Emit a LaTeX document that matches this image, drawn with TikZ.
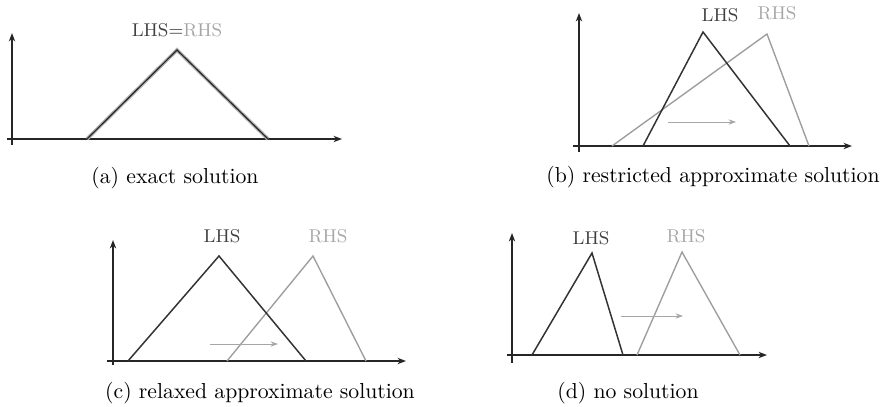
\documentclass[tikz,border=0pt]{standalone}
\usetikzlibrary{arrows.meta}
\begin{document}
\begin{tikzpicture}[x=0.47pt,y=-0.47pt,
  axis/.style={line width=0.75pt, draw=black!85, -{Stealth[length=4pt,width=3pt]}},
  lhs/.style={line width=0.7pt, draw=black!80, line join=miter},
  rhs/.style={line width=0.65pt, draw=black!38, line join=miter},
  shiftarrow/.style={line width=0.4pt, draw=black!35, -{Stealth[length=3.5pt,width=2.5pt]}},
  lab/.style={inner sep=0pt, font=\fontsize{8.7}{10}\selectfont},
  captext/.style={inner sep=0pt, font=\fontsize{10.2}{12}\selectfont}]
\useasboundingbox (0,0) rectangle (890,406);
% ---------- (a)
\coordinate (aY0) at (12,145); \coordinate (aY1) at (12,33);
\coordinate (aX0) at (7,139);  \coordinate (aX1) at (342,139);
\coordinate (aL) at (87,139); \coordinate (aP) at (177,50); \coordinate (aR) at (268,139);
\draw[axis] (aY0) -- (aY1);
\draw[axis] (aX0) -- (aX1);
\draw[line width=1.7pt, draw=black!30, line join=miter] (aL) -- (aP) -- (aR);
\draw[line width=0.55pt, draw=black!85, line join=miter] (aL) -- (aP) -- (aR);
\node[lab] (aLab) at (177,30) {\textcolor{black!75}{LHS=}\textcolor{black!35}{RHS}};
\node[captext] (aCap) at (175,178) {(a) exact solution};
% ---------- (b)
\coordinate (bY0) at (579,152); \coordinate (bY1) at (579,13);
\coordinate (bX0) at (573,146); \coordinate (bX1) at (852,146);
\coordinate (bLl) at (643,146); \coordinate (bLp) at (703,32); \coordinate (bLr) at (790,146);
\coordinate (bRl) at (612,146); \coordinate (bRp) at (767,34); \coordinate (bRr) at (809,146);
\coordinate (bA0) at (668,122); \coordinate (bA1) at (736,122);
\draw[axis] (bY0) -- (bY1);
\draw[axis] (bX0) -- (bX1);
\draw[rhs] (bRl) -- (bRp) -- (bRr);
\draw[lhs] (bLl) -- (bLp) -- (bLr);
\draw[shiftarrow] (bA0) -- (bA1);
\node[lab, text=black!75] (bLab1) at (720,15) {LHS};
\node[lab, text=black!35] (bLab2) at (777,13) {RHS};
\node[captext] (bCap) at (713,177) {(b) restricted approximate solution};
% ---------- (c)
\coordinate (cY0) at (113,365); \coordinate (cY1) at (113,240);
\coordinate (cX0) at (107,361); \coordinate (cX1) at (406,361);
\coordinate (cLl) at (128,361); \coordinate (cLp) at (219,256); \coordinate (cLr) at (306,361);
\coordinate (cRl) at (227,361); \coordinate (cRp) at (313,256); \coordinate (cRr) at (366,361);
\coordinate (cA0) at (210,344); \coordinate (cA1) at (278,344);
\draw[axis] (cY0) -- (cY1);
\draw[axis] (cX0) -- (cX1);
\draw[rhs] (cRl) -- (cRp) -- (cRr);
\draw[lhs] (cLl) -- (cLp) -- (cLr);
\draw[shiftarrow] (cA0) -- (cA1);
\node[lab, text=black!75] (cLab1) at (222,236) {LHS};
\node[lab, text=black!35] (cLab2) at (328,236) {RHS};
\node[captext] (cCap) at (260,393) {(c) relaxed approximate solution};
% ---------- (d)
\coordinate (dY0) at (512,363); \coordinate (dY1) at (512,233);
\coordinate (dX0) at (507,355); \coordinate (dX1) at (767,355);
\coordinate (dLl) at (532,355); \coordinate (dLp) at (592,253); \coordinate (dLr) at (623,355);
\coordinate (dRl) at (637,355); \coordinate (dRp) at (682,252); \coordinate (dRr) at (740,355);
\coordinate (dA0) at (621,316); \coordinate (dA1) at (683,316);
\draw[axis] (dY0) -- (dY1);
\draw[axis] (dX0) -- (dX1);
\draw[rhs] (dRl) -- (dRp) -- (dRr);
\draw[lhs] (dLl) -- (dLp) -- (dLr);
\draw[shiftarrow] (dA0) -- (dA1);
\node[lab, text=black!75] (dLab1) at (591,238) {LHS};
\node[lab, text=black!35] (dLab2) at (686,236) {RHS};
\node[captext] (dCap) at (628,393) {(d) no solution};
\end{tikzpicture}
\end{document}
